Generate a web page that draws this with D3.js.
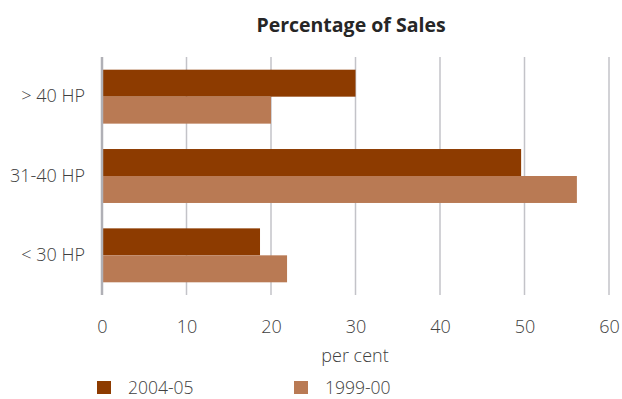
<!DOCTYPE html>
<html>
<head>
<meta charset="utf-8">
<script src="https://cdn.jsdelivr.net/npm/d3@7"></script>
<style>
  html, body { margin: 0; padding: 0; background: #fff; }
  svg { display: block; font-family: "Open Sans", "Noto Sans", sans-serif; }
</style>
</head>
<body>
<svg id="chart" width="622" height="399"></svg>
<script>
// Tractor sales share by horsepower class
const categories = ["> 40 HP", "31-40 HP", "< 30 HP"];
const seriesNames = ["2004-05", "1999-00"];
const sales2004 = [30, 49.6, 18.7];
const sales1999 = [20, 56.2, 21.9];
const xTicks = [0, 10, 20, 30, 40, 50, 60];
const colors = ["#8d3b00", "#b97a54"];

const seriesValues = [sales2004, sales1999];
const rows = categories.map((c, i) => ({
  category: c,
  values: seriesNames.map((s, j) => ({ series: s, value: seriesValues[j][i], color: colors[j] }))
}));

const svg = d3.select("#chart");
const plot = { left: 102, right: 609, top: 57, bottom: 295 };
const labelFont = "\"Open Sans\", sans-serif";

const x = d3.scaleLinear().domain([0, 60]).range([plot.left, plot.right]);
const y = d3.scaleBand().domain(categories).range([plot.top, plot.bottom])
  .paddingInner(0.32).paddingOuter(0.16);
const ySub = d3.scaleBand().domain(seriesNames).range([0, y.bandwidth()]);

// Title
svg.append("text")
  .attr("x", 351).attr("y", 32)
  .attr("text-anchor", "middle")
  .attr("font-size", 19.5).attr("font-weight", "bold")
  .attr("fill", "#262626")
  .text("Percentage of Sales");

// Vertical gridlines
svg.append("g").selectAll("line")
  .data(xTicks.filter(t => t > 0))
  .join("line")
  .attr("x1", d => x(d)).attr("x2", d => x(d))
  .attr("y1", plot.top).attr("y2", plot.bottom)
  .attr("stroke", "#c3c3c8").attr("stroke-width", 1.5);

// Bars
const groups = svg.append("g").selectAll("g")
  .data(rows)
  .join("g")
  .attr("transform", d => `translate(0,${y(d.category)})`);

groups.selectAll("rect")
  .data(d => d.values)
  .join("rect")
  .attr("x", x(0))
  .attr("y", d => ySub(d.series))
  .attr("width", d => x(d.value) - x(0))
  .attr("height", ySub.bandwidth())
  .attr("fill", d => d.color);

// Value axis baseline
svg.append("line")
  .attr("x1", x(0)).attr("x2", x(0))
  .attr("y1", plot.top).attr("y2", plot.bottom)
  .attr("stroke", "#b0b0b6").attr("stroke-width", 2.5);

// X axis tick labels
const xAxis = d3.axisBottom(x).tickValues(xTicks).tickSize(0).tickPadding(0);
const gx = svg.append("g").attr("transform", `translate(0,${plot.bottom})`).call(xAxis);
gx.select(".domain").remove();
gx.selectAll("text")
  .attr("dy", null).attr("y", 38)
  .attr("font-size", 18).attr("font-family", labelFont).attr("font-weight", 300)
  .attr("fill", "#404040");

// Category labels
const yAxis = d3.axisLeft(y).tickSize(0).tickPadding(17);
const gy = svg.append("g").attr("transform", `translate(${plot.left},0)`).call(yAxis);
gy.select(".domain").remove();
gy.selectAll("text")
  .attr("font-size", 18).attr("font-family", labelFont).attr("font-weight", 300)
  .attr("fill", "#404040");

// Axis title
svg.append("text")
  .attr("x", 355).attr("y", 362)
  .attr("text-anchor", "middle")
  .attr("font-size", 18).attr("font-weight", 300).attr("fill", "#404040")
  .text("per cent");

// Legend
const legendX = [97, 294];
const legend = svg.append("g").selectAll("g")
  .data(seriesNames.map((s, i) => ({ name: s, color: colors[i], x: legendX[i] })))
  .join("g")
  .attr("transform", d => `translate(${d.x},381)`);
legend.append("rect")
  .attr("width", 14).attr("height", 13)
  .attr("fill", d => d.color);
legend.append("text")
  .attr("x", 31).attr("y", 13)
  .attr("font-size", 17.5).attr("font-weight", 300).attr("fill", "#404040")
  .text(d => d.name);
</script>
</body>
</html>
